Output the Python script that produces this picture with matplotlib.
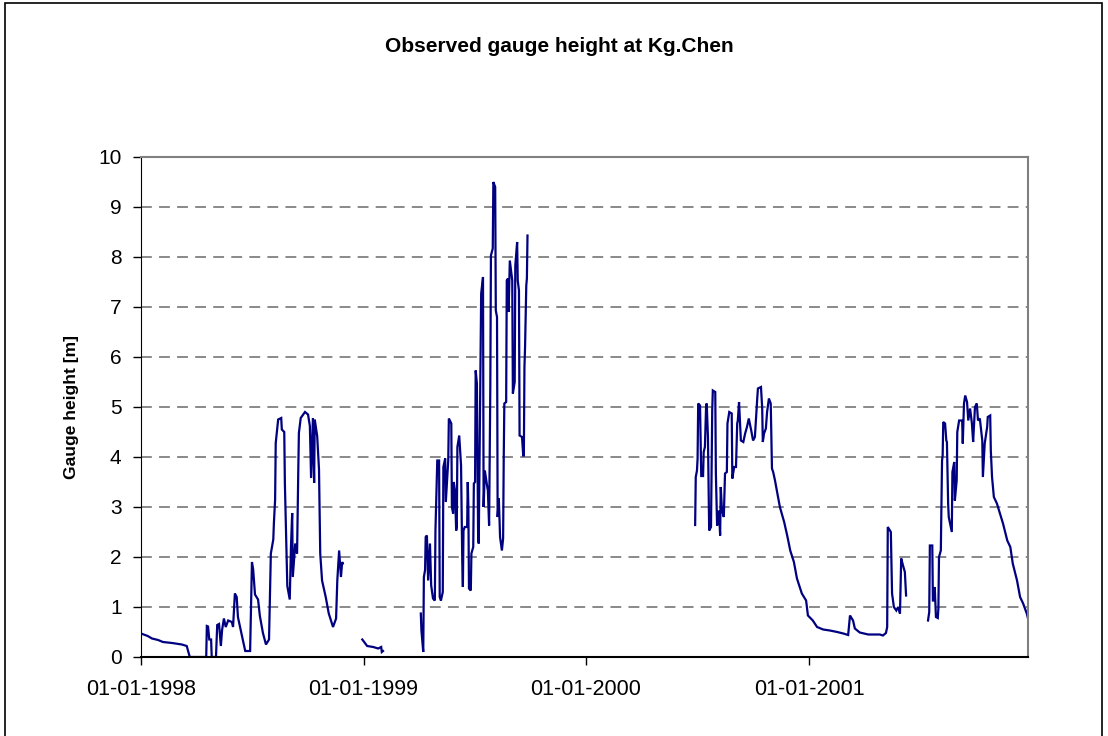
import numpy as np
import matplotlib
matplotlib.use("Agg")
import matplotlib.pyplot as plt
import matplotlib.dates as mdates
from matplotlib.patches import Rectangle

plt.rcParams["font.family"] = ["Liberation Sans", "DejaVu Sans"]

# gauge record, days counted from 01-01-1998; each block is an unbroken stretch
START = np.datetime64("1998-01-01")

seg1_days = [0, 11, 18, 28, 36, 51, 67, 75, 80, 107, 108, 110, 112, 115, 116, 123, 125, 128,
             131, 133, 136, 139, 143, 149, 151, 154, 157, 159, 166, 171, 179, 182, 184, 187,
             192, 195, 200, 205, 210, 213, 217, 218, 220, 221, 225, 230, 231, 235, 236, 240,
             244, 246, 248, 249, 253, 256, 258, 259, 262, 269, 274, 277, 279, 282, 284, 285,
             289, 292, 294, 297, 303, 308, 315, 320, 322, 325, 328, 330, 331]
seg1_h = [0.47, 0.42, 0.37, 0.34, 0.30, 0.28, 0.25, 0.22, 0.0, 0.0, 0.62, 0.61, 0.35, 0.35,
          0.0, 0.0, 0.64, 0.66, 0.22, 0.54, 0.77, 0.60, 0.73, 0.70, 0.60, 1.27, 1.20, 0.80,
          0.40, 0.12, 0.12, 1.90, 1.75, 1.25, 1.15, 0.82, 0.48, 0.25, 0.35, 2.07, 2.35, 2.68,
          3.15, 4.28, 4.75, 4.78, 4.55, 4.50, 3.48, 1.42, 1.15, 2.20, 2.88, 1.60, 2.27, 2.07,
          3.73, 4.48, 4.78, 4.90, 4.85, 4.62, 3.58, 4.78, 3.48, 4.75, 4.42, 3.75, 2.07, 1.53,
          1.20, 0.87, 0.60, 0.77, 1.53, 2.13, 1.60, 1.90, 1.87]

seg2_days = [363, 371, 381, 389, 394, 395, 397]
seg2_h = [0.35, 0.22, 0.20, 0.17, 0.20, 0.10, 0.12]

seg3_days = [459, 460, 463, 464, 466, 467, 469, 471, 474, 476, 479, 482, 483, 486, 489, 490,
             492, 495, 496, 499, 500, 504, 505, 509, 510, 512, 513, 515, 517, 518, 519, 522,
             525, 527, 528, 529, 531, 535, 536, 537, 538, 541, 542, 545, 546, 548, 549, 551,
             553, 554, 558, 561, 562, 564, 568, 569, 571, 573, 574, 577, 578, 581, 582, 584,
             585, 587, 589, 592, 594, 595, 596, 599, 600, 602, 603, 605, 609, 610, 613, 614,
             617, 618, 620, 621, 625, 627, 628, 629, 630, 632, 633, 634]
seg3_h = [0.87, 0.53, 0.10, 1.60, 1.74, 2.40, 2.43, 1.53, 2.27, 1.43, 1.17, 1.13, 2.53, 3.93,
          3.93, 1.20, 1.13, 1.30, 3.80, 3.97, 3.10, 3.93, 4.77, 4.67, 3.00, 2.87, 3.50, 3.33,
          2.53, 2.60, 4.20, 4.43, 3.83, 1.90, 1.40, 2.53, 2.60, 2.60, 3.50, 3.00, 1.37, 1.33,
          2.07, 2.20, 3.47, 3.50, 5.73, 5.47, 2.40, 2.27, 7.27, 7.60, 3.00, 3.73, 3.40, 3.33,
          2.63, 5.40, 8.03, 8.17, 9.50, 9.40, 6.93, 6.80, 2.80, 3.17, 2.40, 2.13, 2.37, 3.97,
          5.07, 5.10, 7.53, 7.57, 6.90, 7.93, 7.53, 5.27, 5.50, 7.83, 8.30, 7.53, 7.33, 4.43,
          4.40, 4.03, 4.03, 5.80, 6.20, 7.43, 7.57, 8.43]

seg4_days = [909, 910, 912, 913, 914, 917, 919, 922, 923, 925, 927, 928, 930, 932, 935, 937,
             938, 942, 943, 945, 948, 950, 951, 953, 956, 958, 961, 962, 965, 969, 970, 973,
             976, 978, 979, 981, 984, 988, 991, 994, 997, 1001, 1004, 1007, 1011, 1012, 1017,
             1019, 1020, 1022, 1025, 1027, 1030, 1033, 1035, 1037, 1040, 1043, 1048, 1055,
             1060, 1065, 1071, 1076, 1084, 1091, 1094, 1102, 1109, 1119, 1130, 1142, 1152,
             1160, 1163, 1168, 1171, 1179, 1193, 1212, 1217, 1222, 1224, 1225, 1230, 1232,
             1235, 1239, 1242, 1245, 1247, 1250, 1253, 1255]
seg4_h = [2.64, 3.60, 3.73, 3.97, 5.07, 5.03, 3.62, 3.62, 4.10, 4.20, 5.03, 5.07, 4.40, 2.53,
          2.60, 4.93, 5.33, 5.30, 3.67, 2.63, 2.93, 2.43, 3.40, 2.93, 2.80, 3.67, 3.70, 4.67,
          4.90, 4.87, 3.57, 3.80, 3.80, 4.67, 4.73, 5.10, 4.33, 4.30, 4.47, 4.60, 4.77, 4.53,
          4.33, 4.40, 5.20, 5.37, 5.40, 4.97, 4.30, 4.47, 4.57, 4.90, 5.17, 5.07, 3.77, 3.70,
          3.53, 3.33, 3.00, 2.70, 2.43, 2.13, 1.90, 1.57, 1.27, 1.13, 0.83, 0.73, 0.60, 0.55,
          0.53, 0.50, 0.47, 0.44, 0.83, 0.73, 0.57, 0.49, 0.45, 0.45, 0.43, 0.48, 0.60, 2.60,
          2.50, 1.27, 1.00, 0.93, 1.00, 0.87, 1.97, 1.83, 1.70, 1.23]

seg5_days = [1291, 1293, 1294, 1298, 1299, 1301, 1302, 1304, 1307, 1308, 1309, 1312, 1314,
             1315, 1316, 1319, 1321, 1322, 1324, 1325, 1330, 1331, 1334, 1335, 1338, 1339,
             1342, 1347, 1348, 1350, 1352, 1355, 1357, 1360, 1363, 1365, 1368, 1371, 1373,
             1376, 1380, 1381, 1384, 1388, 1389, 1393, 1394, 1396, 1399, 1404, 1409, 1414,
             1421, 1426, 1430, 1437, 1442, 1447, 1453, 1455]
seg5_h = [0.73, 0.90, 2.23, 2.23, 1.13, 1.13, 1.40, 0.80, 0.78, 0.97, 2.00, 2.13, 3.93, 4.03,
          4.70, 4.67, 4.33, 4.30, 3.07, 2.80, 2.50, 3.70, 3.90, 3.13, 3.53, 4.50, 4.73, 4.73,
          4.27, 5.07, 5.23, 5.10, 4.73, 4.97, 4.67, 4.30, 5.00, 5.07, 4.73, 4.77, 4.33, 3.60,
          4.27, 4.60, 4.80, 4.83, 4.13, 3.60, 3.20, 3.07, 2.87, 2.67, 2.33, 2.20, 1.87, 1.53,
          1.20, 1.07, 0.87, 0.77]

segments = [(seg1_days, seg1_h), (seg2_days, seg2_h), (seg3_days, seg3_h),
            (seg4_days, seg4_h), (seg5_days, seg5_h)]

year_ticks = ["1998-01-01", "1999-01-01", "2000-01-01", "2001-01-01"]
LAST_DAY = 1455

fig = plt.figure(figsize=(11.08, 7.36), dpi=100)
fig.patch.set_facecolor("white")
ax = fig.add_axes([141 / 1108, 1 - 657 / 736, 887 / 1108, 500 / 736])

for days, h in segments:
    dates = START + np.array(days).astype("timedelta64[D]")
    ax.plot(dates, h, color="#000080", linewidth=1.6, solid_joinstyle="miter")

ax.set_xlim(START, START + np.timedelta64(LAST_DAY, "D"))
ax.set_ylim(0, 10)
ax.set_yticks(range(0, 11))
ax.set_xticks([np.datetime64(t) for t in year_ticks])
ax.xaxis.set_major_formatter(mdates.DateFormatter("%d-%m-%Y"))

# dashed horizontal gridlines, except at the frame top
for yv in range(1, 10):
    ax.axhline(yv, color="#808080", linewidth=1.3, linestyle=(0, (6, 4)), zorder=0)

ax.tick_params(axis="y", direction="out", length=6, width=1, pad=8, labelsize=15)
ax.tick_params(axis="x", direction="out", length=6, width=1, pad=10, labelsize=15.5)

ax.spines["left"].set_color("black")
ax.spines["bottom"].set_color("black")
ax.spines["bottom"].set_linewidth(1.5)
ax.spines["top"].set_color("#808080")
ax.spines["right"].set_color("#808080")
ax.spines["top"].set_linewidth(1.5)
ax.spines["right"].set_linewidth(1.5)

ax.set_ylabel("Gauge height [m]", fontsize=12.5, fontweight="bold", labelpad=14)
fig.text(0.505, 1 - 47 / 736, "Observed gauge height at Kg.Chen", ha="center", va="center",
         fontsize=15, fontweight="bold")

# outer chart border
fig.patches.append(Rectangle((5 / 1108, -0.02), 1097 / 1108, 1.02 - 3 / 736,
                             transform=fig.transFigure, fill=False, edgecolor="black",
                             linewidth=1.2, clip_on=False))

fig.savefig("out.png", dpi=100)
